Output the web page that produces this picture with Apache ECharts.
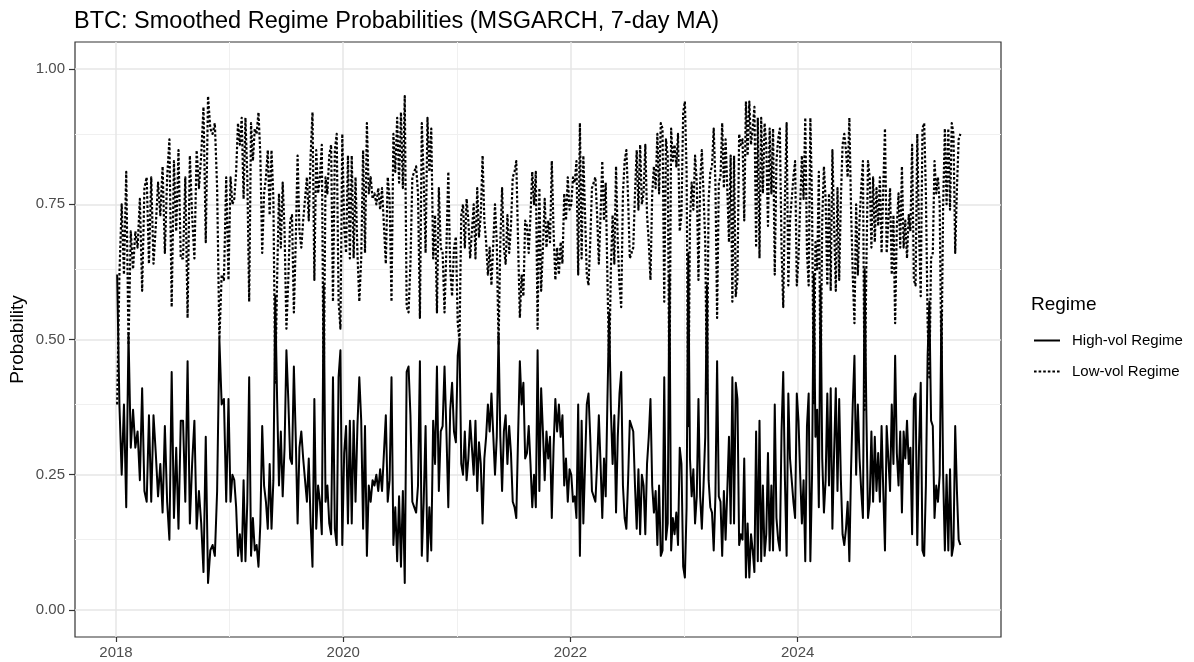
<!DOCTYPE html>
<html>
<head>
<meta charset="utf-8">
<title>BTC regime probabilities</title>
<script src="https://cdn.jsdelivr.net/npm/echarts@6/dist/echarts.min.js"></script>
<style>
  html, body { margin: 0; padding: 0; background: #fff; }
  #box { width: 1194px; height: 662px; }
</style>
</head>
<body>
<div id="box"></div>
<script>
// smoothed regime probabilities, one array per calendar year
// (the points of a year are spread evenly over that year)
const years = [2018, 2019, 2020, 2021, 2022, 2023, 2024, 2025];
const lastDate = 2025.44; // the series stops in mid 2025

const high2018 = [0.62, 0.38, 0.25, 0.38, 0.19, 0.51, 0.30, 0.37, 0.30, 0.33,
  0.24, 0.41, 0.22, 0.20, 0.36, 0.20, 0.36, 0.29, 0.21, 0.27,
  0.18, 0.34, 0.20, 0.13, 0.44, 0.17, 0.30, 0.15, 0.35, 0.35,
  0.20, 0.46, 0.16, 0.27, 0.35, 0.15, 0.22, 0.16, 0.07, 0.32,
  0.05, 0.11, 0.12, 0.10, 0.22, 0.50, 0.38, 0.39, 0.20, 0.39];
const high2019 = [0.20, 0.25, 0.24, 0.19, 0.10, 0.14, 0.09, 0.24, 0.09, 0.20,
  0.43, 0.10, 0.17, 0.11, 0.12, 0.08, 0.16, 0.34, 0.23, 0.20,
  0.15, 0.27, 0.15, 0.24, 0.58, 0.39, 0.23, 0.33, 0.21, 0.30,
  0.48, 0.39, 0.28, 0.27, 0.45, 0.32, 0.16, 0.30, 0.33, 0.28,
  0.24, 0.20, 0.28, 0.16, 0.08, 0.39, 0.15, 0.23, 0.20, 0.14,
  0.60, 0.20, 0.23, 0.16, 0.14, 0.43, 0.15, 0.12, 0.43, 0.48, 0.12];
const high2020 = [0.29, 0.34, 0.16, 0.35, 0.16, 0.35, 0.20, 0.34, 0.43, 0.35,
  0.15, 0.34, 0.10, 0.23, 0.20, 0.24, 0.23, 0.25, 0.22, 0.26,
  0.22, 0.22, 0.36, 0.20, 0.24, 0.43, 0.12, 0.19, 0.09, 0.21,
  0.08, 0.22, 0.05, 0.44, 0.45, 0.36, 0.20, 0.19, 0.18, 0.23,
  0.46, 0.10, 0.20, 0.34, 0.09, 0.19, 0.11, 0.35, 0.27, 0.45,
  0.22, 0.33, 0.34, 0.45, 0.33, 0.19, 0.37, 0.42, 0.33, 0.31];
const high2021 = [0.47, 0.50, 0.27, 0.25, 0.33, 0.24, 0.28, 0.35, 0.30, 0.25,
  0.35, 0.22, 0.31, 0.27, 0.16, 0.28, 0.32, 0.38, 0.33, 0.40,
  0.40, 0.25, 0.32, 0.51, 0.32, 0.22, 0.33, 0.36, 0.27, 0.34,
  0.29, 0.20, 0.19, 0.17, 0.32, 0.46, 0.38, 0.42, 0.28, 0.29,
  0.34, 0.27, 0.19, 0.25, 0.19, 0.48, 0.22, 0.41, 0.33, 0.24,
  0.33, 0.28, 0.32, 0.17, 0.30, 0.39, 0.33, 0.38, 0.32, 0.36,
  0.23, 0.28, 0.20, 0.26];
const high2022 = [0.25, 0.20, 0.21, 0.17, 0.38, 0.10, 0.35, 0.16, 0.27, 0.38,
  0.40, 0.32, 0.22, 0.22, 0.20, 0.27, 0.36, 0.27, 0.17, 0.28,
  0.21, 0.39, 0.55, 0.37, 0.27, 0.36, 0.18, 0.32, 0.40, 0.44,
  0.23, 0.17, 0.15, 0.24, 0.35, 0.34, 0.33, 0.23, 0.15, 0.26,
  0.14, 0.25, 0.23, 0.14, 0.27, 0.32, 0.39, 0.23, 0.18, 0.22,
  0.12, 0.23, 0.10, 0.11, 0.43, 0.13, 0.16, 0.62, 0.11, 0.17,
  0.14, 0.18, 0.12, 0.30, 0.27, 0.08];
const high2023 = [0.06, 0.19, 0.66, 0.28, 0.21, 0.26, 0.16, 0.21, 0.39, 0.21,
  0.15, 0.23, 0.32, 0.60, 0.24, 0.19, 0.18, 0.11, 0.21, 0.46,
  0.21, 0.20, 0.10, 0.22, 0.13, 0.22, 0.32, 0.16, 0.43, 0.16,
  0.42, 0.39, 0.12, 0.14, 0.13, 0.28, 0.06, 0.16, 0.06, 0.14,
  0.11, 0.07, 0.33, 0.09, 0.35, 0.09, 0.23, 0.10, 0.14, 0.29,
  0.11, 0.23, 0.11, 0.38, 0.17, 0.13, 0.11, 0.33, 0.44, 0.24,
  0.10, 0.40, 0.28, 0.24, 0.20, 0.17, 0.40];
const high2024 = [0.35, 0.25, 0.16, 0.24, 0.09, 0.34, 0.40, 0.09, 0.25, 0.62,
  0.32, 0.37, 0.19, 0.60, 0.28, 0.18, 0.24, 0.40, 0.23, 0.41,
  0.15, 0.29, 0.41, 0.22, 0.39, 0.24, 0.14, 0.12, 0.15, 0.20,
  0.09, 0.26, 0.38, 0.47, 0.25, 0.38, 0.28, 0.22, 0.17, 0.63,
  0.37, 0.17, 0.20, 0.33, 0.20, 0.32, 0.22, 0.29, 0.20, 0.34,
  0.22, 0.11, 0.34, 0.28, 0.22, 0.38, 0.27, 0.47, 0.29, 0.23,
  0.33, 0.18, 0.33, 0.28, 0.35, 0.27, 0.30];
const high2025 = [0.14, 0.39, 0.40, 0.12, 0.30, 0.42, 0.11, 0.10, 0.23, 0.47,
  0.57, 0.35, 0.34, 0.17, 0.23, 0.20, 0.25, 0.55, 0.25, 0.11,
  0.25, 0.11, 0.26, 0.10, 0.12, 0.34, 0.22, 0.13, 0.12];

const low2018 = [0.38, 0.62, 0.75, 0.62, 0.81, 0.49, 0.70, 0.63, 0.70, 0.67,
  0.76, 0.59, 0.78, 0.80, 0.64, 0.80, 0.64, 0.71, 0.79, 0.73,
  0.82, 0.66, 0.80, 0.87, 0.56, 0.83, 0.70, 0.85, 0.65, 0.65,
  0.80, 0.54, 0.84, 0.73, 0.65, 0.85, 0.78, 0.84, 0.93, 0.68,
  0.95, 0.89, 0.88, 0.90, 0.78, 0.50, 0.62, 0.61, 0.80, 0.61];
const low2019 = [0.80, 0.75, 0.76, 0.81, 0.90, 0.86, 0.91, 0.76, 0.91, 0.80,
  0.57, 0.90, 0.83, 0.89, 0.88, 0.92, 0.84, 0.66, 0.77, 0.80,
  0.85, 0.73, 0.85, 0.76, 0.42, 0.61, 0.77, 0.67, 0.79, 0.70,
  0.52, 0.61, 0.72, 0.73, 0.55, 0.68, 0.84, 0.70, 0.67, 0.72,
  0.76, 0.80, 0.72, 0.84, 0.92, 0.61, 0.85, 0.77, 0.80, 0.86,
  0.40, 0.80, 0.77, 0.84, 0.86, 0.57, 0.85, 0.88, 0.57, 0.52, 0.88];
const low2020 = [0.71, 0.66, 0.84, 0.65, 0.84, 0.65, 0.80, 0.66, 0.57, 0.65,
  0.85, 0.66, 0.90, 0.77, 0.80, 0.76, 0.77, 0.75, 0.78, 0.74,
  0.78, 0.78, 0.64, 0.80, 0.76, 0.57, 0.88, 0.81, 0.91, 0.79,
  0.92, 0.78, 0.95, 0.56, 0.55, 0.64, 0.80, 0.81, 0.82, 0.77,
  0.54, 0.90, 0.80, 0.66, 0.91, 0.81, 0.89, 0.65, 0.73, 0.55,
  0.78, 0.67, 0.66, 0.55, 0.67, 0.81, 0.63, 0.58, 0.67, 0.69];
const low2021 = [0.53, 0.50, 0.73, 0.75, 0.67, 0.76, 0.72, 0.65, 0.70, 0.75,
  0.65, 0.78, 0.69, 0.73, 0.84, 0.72, 0.68, 0.62, 0.67, 0.60,
  0.60, 0.75, 0.68, 0.49, 0.68, 0.78, 0.67, 0.64, 0.73, 0.66,
  0.71, 0.80, 0.81, 0.83, 0.68, 0.54, 0.62, 0.58, 0.72, 0.71,
  0.66, 0.73, 0.81, 0.75, 0.81, 0.52, 0.78, 0.59, 0.67, 0.76,
  0.67, 0.72, 0.68, 0.83, 0.70, 0.61, 0.67, 0.62, 0.68, 0.64,
  0.77, 0.72, 0.80, 0.74];
const low2022 = [0.75, 0.80, 0.79, 0.83, 0.62, 0.90, 0.65, 0.84, 0.73, 0.62,
  0.60, 0.68, 0.78, 0.78, 0.80, 0.73, 0.64, 0.73, 0.83, 0.72,
  0.79, 0.61, 0.45, 0.63, 0.73, 0.64, 0.82, 0.68, 0.60, 0.56,
  0.77, 0.83, 0.85, 0.76, 0.65, 0.66, 0.67, 0.77, 0.85, 0.74,
  0.86, 0.75, 0.77, 0.86, 0.73, 0.68, 0.61, 0.77, 0.82, 0.78,
  0.88, 0.77, 0.90, 0.89, 0.57, 0.87, 0.84, 0.38, 0.89, 0.83,
  0.86, 0.82, 0.88, 0.70, 0.73, 0.92];
const low2023 = [0.94, 0.81, 0.34, 0.72, 0.79, 0.74, 0.84, 0.79, 0.61, 0.79,
  0.85, 0.77, 0.68, 0.40, 0.76, 0.81, 0.82, 0.89, 0.79, 0.54,
  0.79, 0.80, 0.90, 0.78, 0.87, 0.78, 0.68, 0.84, 0.57, 0.84,
  0.58, 0.61, 0.88, 0.86, 0.87, 0.72, 0.94, 0.84, 0.94, 0.86,
  0.89, 0.93, 0.67, 0.91, 0.65, 0.91, 0.77, 0.90, 0.86, 0.71,
  0.89, 0.77, 0.89, 0.62, 0.83, 0.87, 0.89, 0.67, 0.56, 0.76,
  0.90, 0.60, 0.72, 0.76, 0.80, 0.83, 0.60];
const low2024 = [0.65, 0.75, 0.84, 0.76, 0.91, 0.66, 0.60, 0.91, 0.75, 0.38,
  0.68, 0.63, 0.81, 0.40, 0.72, 0.82, 0.76, 0.60, 0.77, 0.59,
  0.85, 0.71, 0.59, 0.78, 0.61, 0.76, 0.86, 0.88, 0.85, 0.80,
  0.91, 0.74, 0.62, 0.53, 0.75, 0.62, 0.72, 0.78, 0.83, 0.37,
  0.63, 0.83, 0.80, 0.67, 0.80, 0.68, 0.78, 0.71, 0.80, 0.66,
  0.78, 0.89, 0.66, 0.72, 0.78, 0.62, 0.73, 0.53, 0.71, 0.77,
  0.67, 0.82, 0.67, 0.72, 0.65, 0.73, 0.70];
const low2025 = [0.86, 0.61, 0.60, 0.88, 0.70, 0.58, 0.89, 0.90, 0.77, 0.53,
  0.43, 0.65, 0.66, 0.83, 0.77, 0.80, 0.75, 0.45, 0.75, 0.89,
  0.75, 0.89, 0.74, 0.90, 0.88, 0.66, 0.78, 0.87, 0.88];

const highVol = [high2018, high2019, high2020, high2021, high2022, high2023, high2024, high2025];
const lowVol = [low2018, low2019, low2020, low2021, low2022, low2023, low2024, low2025];

const xLabels = [2018, 2020, 2022, 2024];
const xMinor = [2019, 2021, 2023, 2025];
const yLabels = [0, 0.25, 0.5, 0.75, 1];
const yMinor = [0.125, 0.375, 0.625, 0.875];

const FONT = '"Liberation Sans", Arial, Helvetica, sans-serif';

// [decimal year, probability] pairs
function toPoints(chunks) {
  const pts = [];
  chunks.forEach((vals, k) => {
    const start = years[k];
    const end = k === years.length - 1 ? lastDate : start + 1;
    vals.forEach((v, i) => {
      pts.push([start + (i + 0.5) * (end - start) / vals.length, v]);
    });
  });
  return pts;
}

function drawChart() {
  const chart = echarts.init(document.getElementById('box'));

  const major = { color: '#e6e6e6', width: 1.5, type: 'solid' };
  const minor = { color: '#f0f0f0', width: 1, type: 'solid' };
  const gridLines = []
    .concat(xMinor.map(v => ({ xAxis: v, lineStyle: minor })))
    .concat(yMinor.map(v => ({ yAxis: v, lineStyle: minor })))
    .concat(xLabels.map(v => ({ xAxis: v, lineStyle: major })))
    .concat(yLabels.map(v => ({ yAxis: v, lineStyle: major })));

  const option = {
    animation: false,
    backgroundColor: '#ffffff',
    title: [
      {
        text: 'BTC: Smoothed Regime Probabilities (MSGARCH, 7-day MA)',
        left: 74, top: 10, padding: 0,
        textStyle: { fontFamily: FONT, fontSize: 23.5, fontWeight: 'normal', color: '#000' }
      },
      {
        text: 'Regime',
        left: 1031, top: 295, padding: 0,
        textStyle: { fontFamily: FONT, fontSize: 19, fontWeight: 'normal', color: '#000' }
      }
    ],
    legend: {
      orient: 'vertical',
      left: 1033, top: 333, padding: 0,
      itemWidth: 26, itemHeight: 14, itemGap: 16,
      selectedMode: false,
      data: ['High-vol Regime', 'Low-vol Regime'],
      itemStyle: { opacity: 0 },
      textStyle: { fontFamily: FONT, fontSize: 15, color: '#000', padding: [0, 0, 0, 7] }
    },
    grid: {
      left: 75, right: 193, top: 42, bottom: 25,
      outerBoundsMode: 'none', containLabel: false,
      show: true, borderColor: '#333333', borderWidth: 1.2,
      backgroundColor: 'transparent'
    },
    xAxis: {
      type: 'value',
      min: 2017.639, max: 2025.79,
      axisLine: { show: false, onZero: false },
      splitLine: { show: false },
      axisTick: { show: true, length: 5, customValues: xLabels, lineStyle: { color: '#333', width: 1.2 } },
      axisLabel: {
        customValues: xLabels, margin: 8,
        fontFamily: FONT, fontSize: 15, color: '#4d4d4d',
        formatter: v => String(v)
      }
    },
    yAxis: {
      type: 'value',
      min: -0.05, max: 1.05,
      name: 'Probability',
      nameLocation: 'middle', nameGap: 48, nameMoveOverlap: false,
      nameTextStyle: { fontFamily: FONT, fontSize: 19, color: '#000' },
      axisLine: { show: false, onZero: false },
      splitLine: { show: false },
      axisTick: { show: true, length: 6, customValues: yLabels, lineStyle: { color: '#333', width: 1.2 } },
      axisLabel: {
        customValues: yLabels, margin: 10,
        fontFamily: FONT, fontSize: 15, color: '#4d4d4d',
        formatter: v => v.toFixed(2)
      }
    },
    series: [
      {
        // carries the panel grid lines only
        name: 'gridlines', type: 'line', data: [], silent: true, z: 1,
        markLine: {
          silent: true, symbol: ['none', 'none'], z: 1, animation: false,
          label: { show: false }, data: gridLines
        }
      },
      {
        name: 'High-vol Regime', type: 'line', z: 3,
        data: toPoints(highVol),
        symbol: 'none', showSymbol: false,
        lineStyle: { color: '#000', width: 2, type: 'solid', join: 'round' },
        itemStyle: { color: '#000' }
      },
      {
        name: 'Low-vol Regime', type: 'line', z: 4,
        data: toPoints(lowVol),
        symbol: 'none', showSymbol: false,
        lineStyle: { color: '#000', width: 2.2, type: [2.6, 2.0], join: 'round' },
        itemStyle: { color: '#000' }
      }
    ]
  };
  chart.setOption(option);
}

drawChart();
</script>
</body>
</html>
